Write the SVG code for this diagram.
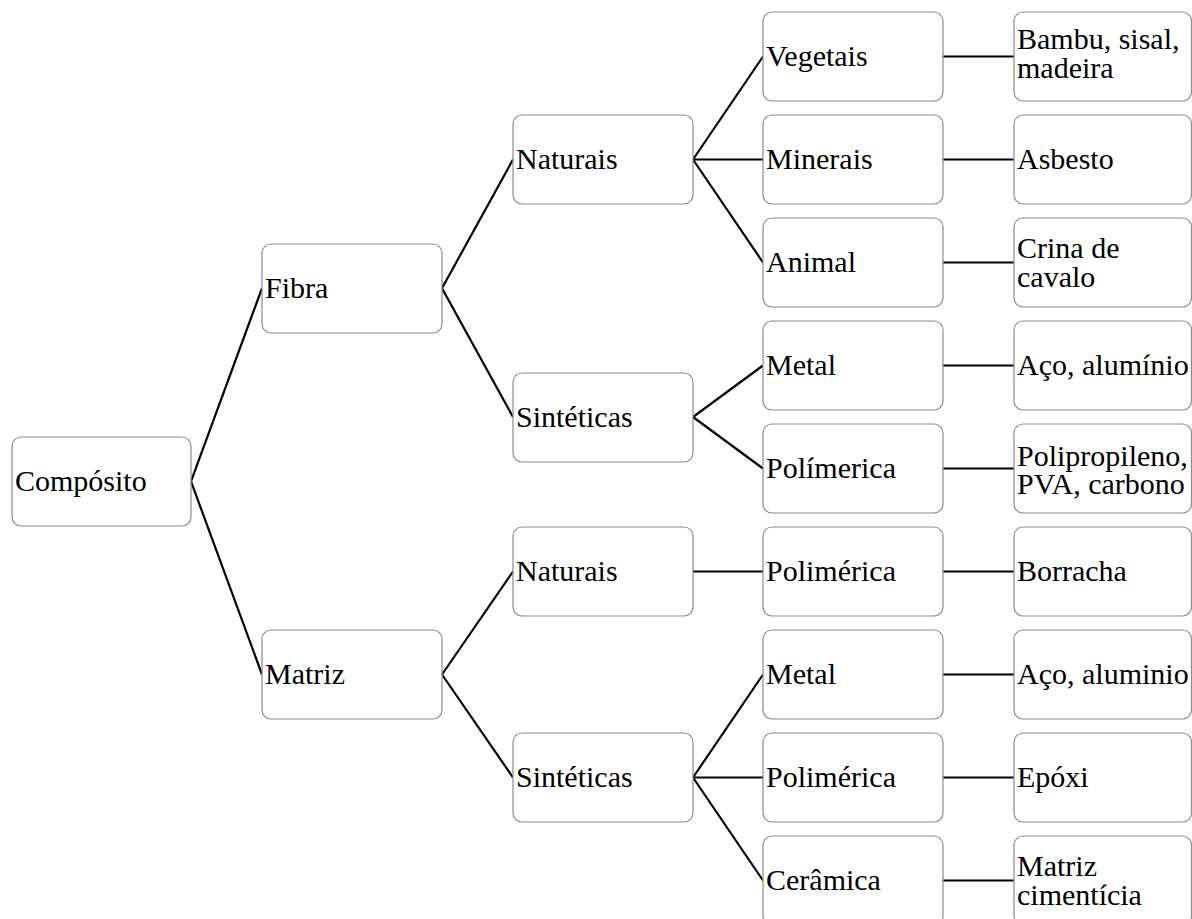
<svg xmlns="http://www.w3.org/2000/svg" width="1192" height="919" viewBox="0 0 1192 919">
  <rect width="1192" height="919" fill="#ffffff"/>

  <!-- connectors: parent right edge centre to child left edge centre -->
  <g id="connectors" fill="none" stroke="#000000" stroke-width="2.2">
    <path d="M191 481.4 L262 288.2 M191 481.4 L262 674.5"/>
    <path d="M442 288.2 L513 159.5 M442 288.2 L513 417"/>
    <path d="M442 674.5 L513 571.5 M442 674.5 L513 777.5"/>
    <path d="M693 159.5 L763 56.5 M693 159.5 L763 159.5 M693 159.5 L763 262.5"/>
    <path d="M693 417 L763 365.5 M693 417 L763 468.5"/>
    <path d="M693 571.5 L763 571.5"/>
    <path d="M693 777.5 L763 674.5 M693 777.5 L763 777.5 M693 777.5 L763 880.5"/>
    <path d="M943 56.5 L1014 56.5 M943 159.5 L1014 159.5 M943 262.5 L1014 262.5 M943 365.5 L1014 365.5 M943 468.5 L1014 468.5 M943 571.5 L1014 571.5 M943 674.5 L1014 674.5 M943 777.5 L1014 777.5 M943 880.5 L1014 880.5"/>
  </g>

  <defs>
    <!-- shared rounded node frames -->
    <rect id="frame" width="180" height="89" rx="9" fill="#ffffff" stroke="#8c8c8c" stroke-width="1.2"/>
    <rect id="frame-end" width="177.5" height="89" rx="9" fill="#ffffff" stroke="#8c8c8c" stroke-width="1.2"/>
  </defs>

  <!-- level 1 -->
  <g id="composito"><rect x="12" y="437" width="179" height="89" rx="9" fill="#ffffff" stroke="#8c8c8c" stroke-width="1.2"/><text x="15" y="491" font-family="Liberation Serif" font-size="30">Compósito</text></g>

  <!-- level 2 -->
  <g id="fibra"><use href="#frame" x="262" y="244"/><text x="265" y="298" font-family="Liberation Serif" font-size="30">Fibra</text></g>
  <g id="matriz"><use href="#frame" x="262" y="630"/><text x="265" y="684" font-family="Liberation Serif" font-size="30">Matriz</text></g>

  <!-- level 3 -->
  <g id="fibra-naturais"><use href="#frame" x="513" y="115"/><text x="516" y="169" font-family="Liberation Serif" font-size="30">Naturais</text></g>
  <g id="fibra-sinteticas"><use href="#frame" x="513" y="373"/><text x="516" y="427" font-family="Liberation Serif" font-size="30">Sintéticas</text></g>
  <g id="matriz-naturais"><use href="#frame" x="513" y="527"/><text x="516" y="581" font-family="Liberation Serif" font-size="30">Naturais</text></g>
  <g id="matriz-sinteticas"><use href="#frame" x="513" y="733"/><text x="516" y="787" font-family="Liberation Serif" font-size="30">Sintéticas</text></g>

  <!-- level 4 -->
  <g id="vegetais"><use href="#frame" x="763" y="12"/><text x="766" y="66" font-family="Liberation Serif" font-size="30">Vegetais</text></g>
  <g id="minerais"><use href="#frame" x="763" y="115"/><text x="766" y="169" font-family="Liberation Serif" font-size="30">Minerais</text></g>
  <g id="animal"><use href="#frame" x="763" y="218"/><text x="766" y="272" font-family="Liberation Serif" font-size="30">Animal</text></g>
  <g id="fibra-metal"><use href="#frame" x="763" y="321"/><text x="766" y="375" font-family="Liberation Serif" font-size="30">Metal</text></g>
  <g id="fibra-polimerica"><use href="#frame" x="763" y="424"/><text x="766" y="478" font-family="Liberation Serif" font-size="30">Polímerica</text></g>
  <g id="matriz-nat-polimerica"><use href="#frame" x="763" y="527"/><text x="766" y="581" font-family="Liberation Serif" font-size="30">Polimérica</text></g>
  <g id="matriz-metal"><use href="#frame" x="763" y="630"/><text x="766" y="684" font-family="Liberation Serif" font-size="30">Metal</text></g>
  <g id="matriz-polimerica"><use href="#frame" x="763" y="733"/><text x="766" y="787" font-family="Liberation Serif" font-size="30">Polimérica</text></g>
  <g id="ceramica"><use href="#frame" x="763" y="836"/><text x="766" y="890" font-family="Liberation Serif" font-size="30">Cerâmica</text></g>

  <!-- level 5 -->
  <g id="bambu"><use href="#frame-end" x="1014" y="12"/><text font-family="Liberation Serif" font-size="30"><tspan x="1017" y="49">Bambu, sisal,</tspan><tspan x="1017" y="78">madeira</tspan></text></g>
  <g id="asbesto"><use href="#frame-end" x="1014" y="115"/><text x="1017" y="169" font-family="Liberation Serif" font-size="30">Asbesto</text></g>
  <g id="crina"><use href="#frame-end" x="1014" y="218"/><text font-family="Liberation Serif" font-size="30"><tspan x="1017" y="258">Crina de</tspan><tspan x="1017" y="287">cavalo</tspan></text></g>
  <g id="aco-aluminio-1"><use href="#frame-end" x="1014" y="321"/><text x="1017" y="375" font-family="Liberation Serif" font-size="30">Aço, alumínio</text></g>
  <g id="polipropileno"><use href="#frame-end" x="1014" y="424"/><text font-family="Liberation Serif" font-size="30"><tspan x="1017" y="466">Polipropileno,</tspan><tspan x="1017" y="494">PVA, carbono</tspan></text></g>
  <g id="borracha"><use href="#frame-end" x="1014" y="527"/><text x="1017" y="581" font-family="Liberation Serif" font-size="30">Borracha</text></g>
  <g id="aco-aluminio-2"><use href="#frame-end" x="1014" y="630"/><text x="1017" y="684" font-family="Liberation Serif" font-size="30">Aço, aluminio</text></g>
  <g id="epoxi"><use href="#frame-end" x="1014" y="733"/><text x="1017" y="787" font-family="Liberation Serif" font-size="30">Epóxi</text></g>
  <g id="matriz-cimenticia"><use href="#frame-end" x="1014" y="836"/><text font-family="Liberation Serif" font-size="30"><tspan x="1017" y="876">Matriz</tspan><tspan x="1017" y="905">cimentícia</tspan></text></g>
</svg>
